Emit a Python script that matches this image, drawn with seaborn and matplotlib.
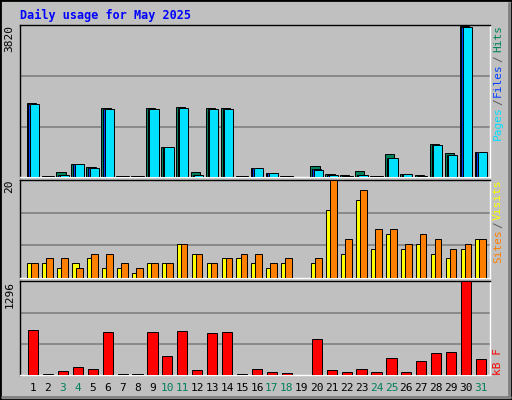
import matplotlib
matplotlib.use("Agg")
import matplotlib.pyplot as plt
import seaborn as sns
import pandas as pd
import numpy as np

days = list(range(1, 32))
weekend_days = [3, 4, 10, 11, 17, 18, 24, 25, 31]
hits = [1870, 35, 138, 320, 250, 1741, 30, 30, 1741, 758, 1767, 138, 1741, 1741, 30, 224, 112, 30, 0, 276, 86, 60, 164, 30, 578, 86, 60, 836, 603, 3810, 629]
files = [1845, 35, 60, 320, 215, 1715, 30, 30, 1715, 758, 1741, 60, 1715, 1715, 30, 224, 112, 30, 0, 190, 60, 35, 60, 30, 474, 86, 35, 810, 552, 3784, 629]
pages = [1845, 35, 60, 320, 215, 1715, 30, 30, 1715, 758, 1741, 60, 1715, 1715, 30, 224, 112, 30, 0, 170, 60, 35, 60, 30, 474, 86, 35, 810, 552, 3784, 629]
visits = [3, 3, 2, 3, 4, 2, 2, 1, 3, 3, 7, 5, 3, 4, 4, 3, 2, 3, 0, 3, 14, 5, 16, 6, 9, 6, 7, 5, 4, 6, 8]
sites = [3, 4, 4, 2, 5, 5, 3, 2, 3, 3, 7, 5, 3, 4, 5, 5, 3, 4, 0, 4, 20, 8, 18, 10, 10, 7, 9, 8, 6, 7, 8]
kbytes = [629, 19, 61, 104, 90, 600, 19, 19, 600, 260, 615, 76, 587, 600, 19, 90, 47, 33, 0, 501, 76, 47, 90, 47, 232, 47, 189, 303, 317, 1296, 218]
max_hits, max_sites, max_kb = 3820, 20, 1296

BG = "#C0C0C0"
sns.set_theme(style="white")
plt.rcParams['font.family'] = ['DejaVu Sans Mono', 'DejaVu Sans']

fig = plt.figure(figsize=(5.12, 4.0), dpi=100, facecolor=BG)
W, H = 512, 400
XA, XB = 0.13, 31.6
def add_ax(top, bottom):
    return fig.add_axes([20 / W, 1 - bottom / H, 470 / W, (bottom - top) / H])

ax1 = add_ax(25, 177)
ax2 = add_ax(180, 278)
ax3 = add_ax(281, 375)

df = pd.DataFrame({"day": days, "hits": hits, "files": files, "pages": pages,
                   "visits": visits, "sites": sites, "kb": kbytes})

def bars(ax, col, shift, color, width):
    d = pd.DataFrame({"x": df["day"] + shift, "y": df[col]})
    sns.barplot(data=d, x="x", y="y", native_scale=True, color=color, width=width,
                edgecolor="black", linewidth=0.7, saturation=1, ax=ax, zorder=3)

bars(ax1, "hits", -0.12, "#00805C", 0.62)
bars(ax1, "files", 0.0, "#0040FF", 0.62)
bars(ax1, "pages", 0.1, "#00E0FF", 0.62)
bars(ax2, "visits", -0.15, "#FFFF00", 0.45)
bars(ax2, "sites", 0.12, "#FF8000", 0.45)
bars(ax3, "kb", 0.0, "#FF0000", 0.68)

for ax, mx, lab in [(ax1, max_hits, "3820"), (ax2, max_sites, "20"), (ax3, max_kb, "1296")]:
    ax.set_facecolor(BG)
    ax.set_xlim(XA, XB)
    ax.set_ylim(0, mx * 1.005)
    for f in (1 / 3, 2 / 3):
        ax.axhline(mx * f, color="#808080", lw=1.2, zorder=1)
    ax.set_xticks([]); ax.set_yticks([])
    ax.set_xlabel(""); ax.set_ylabel("")
    for s in ax.spines.values():
        s.set_color("white"); s.set_linewidth(1)
    ax.spines["left"].set_color("black"); ax.spines["top"].set_color("black")
    ax.text(-0.012, 1.0, lab, transform=ax.transAxes, rotation=90, ha="right", va="top",
            fontsize=8, color="black")

fig.text(498 / W, 1 - 25 / H, "Hits", rotation=90, ha="center", va="top", fontsize=8, color="#00805C")
fig.text(498 / W, 1 - 55 / H, "/", rotation=90, ha="center", va="top", fontsize=8, color="#555555")
fig.text(498 / W, 1 - 63 / H, "Files", rotation=90, ha="center", va="top", fontsize=8, color="#0040FF")
fig.text(498 / W, 1 - 98 / H, "/", rotation=90, ha="center", va="top", fontsize=8, color="#555555")
fig.text(498 / W, 1 - 106 / H, "Pages", rotation=90, ha="center", va="top", fontsize=8, color="#00E0FF")
fig.text(498 / W, 1 - 180 / H, "Visits", rotation=90, ha="center", va="top", fontsize=8, color="#FFFF00")
fig.text(498 / W, 1 - 221 / H, "/", rotation=90, ha="center", va="top", fontsize=8, color="#555555")
fig.text(498 / W, 1 - 229 / H, "Sites", rotation=90, ha="center", va="top", fontsize=8, color="#FF8000")
fig.text(498 / W, 1 - 375 / H, "kB F", rotation=90, ha="center", va="bottom", fontsize=8, color="#FF0000")

for d in days:
    x = 20 / W + (d - XA) / (XB - XA) * 470 / W
    fig.text(x, 1 - 388 / H, str(d), ha="center", va="center", fontsize=8,
             color="#00805C" if d in weekend_days else "black")

fig.text(20 / W, 1 - 15 / H, "Daily usage for May 2025", ha="left", va="center",
         fontsize=8.5, fontweight="bold", color="#0000FF")

fig.add_artist(plt.Rectangle((0, 0), 1, 1, transform=fig.transFigure, fill=False,
                             edgecolor="black", lw=2))
fig.add_artist(plt.Line2D([2 / W, 510 / W], [3 / H, 3 / H], transform=fig.transFigure,
                          color="#808080", lw=2))
fig.add_artist(plt.Line2D([509 / W, 509 / W], [3 / H, 397 / H], transform=fig.transFigure,
                          color="#808080", lw=2))

fig.savefig("out.png", dpi=100, facecolor=BG)
